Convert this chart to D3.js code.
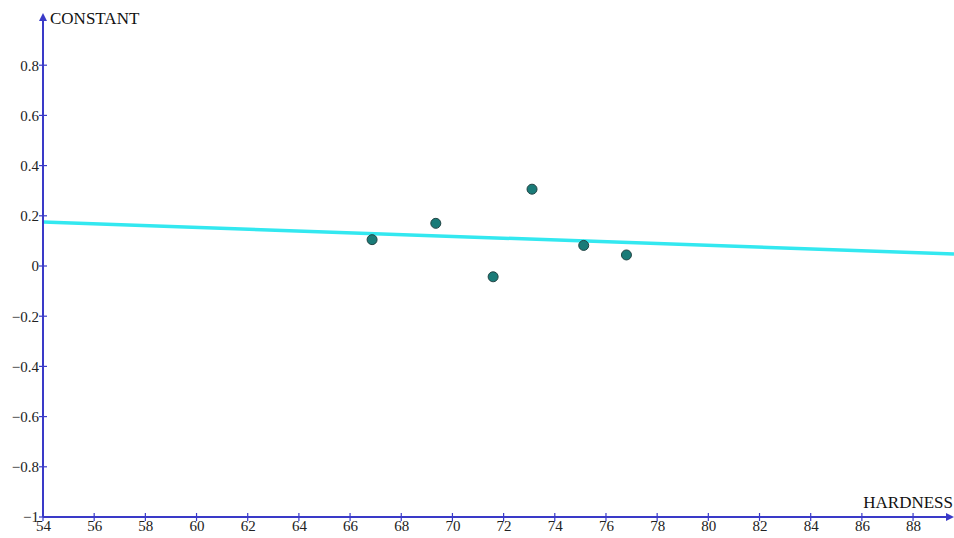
<!DOCTYPE html>
<html>
<head>
<meta charset="utf-8">
<script src="https://cdn.jsdelivr.net/npm/d3@7"></script>
<style>
  body { margin: 0; background: #fff; }
  svg { display: block; }
</style>
</head>
<body>
<div id="wrapper"></div>
<script>
// DATA
const hardness = [66.86, 69.35, 71.59, 73.11, 75.13, 76.8];
const constant = [0.105, 0.17, -0.043, 0.306, 0.082, 0.044];
const fitX = [54, 89.6];
const fitY = [0.175, 0.048];
const xTicks = [54, 56, 58, 60, 62, 64, 66, 68, 70, 72, 74, 76, 78, 80, 82, 84, 86, 88];
const yTicks = [-1, -0.8, -0.6, -0.4, -0.2, 0, 0.2, 0.4, 0.6, 0.8];

const width = 954, height = 538;
const axisColor = "#3a3ac8";
const font = "'Liberation Serif', 'DejaVu Serif', serif";

const svg = d3.select("#wrapper")
  .append("svg")
  .attr("width", width)
  .attr("height", height);

//SCALES
const x = d3.scaleLinear().domain([54, 89.6]).range([43, 954]);
const y = d3.scaleLinear().domain([-1, 0]).range([517, 266]);

//FIT LINE
svg.append("line")
  .attr("x1", x(fitX[0]))
  .attr("y1", y(fitY[0]))
  .attr("x2", x(fitX[1]))
  .attr("y2", y(fitY[1]))
  .attr("stroke", "#33e8f0")
  .attr("stroke-width", 3.5);

//AXES
const xAxis = svg.append("g")
  .attr("transform", `translate(0,${y(-1)})`)
  .call(d3.axisBottom(x).tickValues(xTicks).tickSize(0).tickPadding(3).tickFormat(d3.format("d")));

const yAxis = svg.append("g")
  .attr("transform", `translate(${x(54)},0)`)
  .call(d3.axisLeft(y).tickValues(yTicks).tickSize(0).tickPadding(4).tickFormat(d => d === 0 ? "0" : d3.format("")(d)));

[xAxis, yAxis].forEach(a => {
  a.select(".domain").remove();
  a.selectAll("text")
    .attr("font-family", font)
    .attr("font-size", 15)
    .attr("fill", "#222");
});
xAxis.selectAll("text").attr("dy", "0.72em");

// tick marks crossing the axes
svg.append("g")
  .selectAll("line")
  .data(xTicks)
  .join("line")
  .attr("x1", d => x(d)).attr("x2", d => x(d))
  .attr("y1", y(-1) - 4).attr("y2", y(-1) + 4)
  .attr("stroke", axisColor)
  .attr("stroke-width", 1.2);

svg.append("g")
  .selectAll("line")
  .data(yTicks)
  .join("line")
  .attr("x1", x(54) - 4).attr("x2", x(54) + 4)
  .attr("y1", d => y(d)).attr("y2", d => y(d))
  .attr("stroke", axisColor)
  .attr("stroke-width", 1.2);

// axis lines with arrows
svg.append("line")
  .attr("x1", x(54)).attr("y1", y(-1))
  .attr("x2", 950).attr("y2", y(-1))
  .attr("stroke", axisColor).attr("stroke-width", 2);
svg.append("path")
  .attr("d", `M954,${y(-1)} L946,${y(-1) - 4} L946,${y(-1) + 4} Z`)
  .attr("fill", axisColor);

svg.append("line")
  .attr("x1", x(54)).attr("y1", y(-1))
  .attr("x2", x(54)).attr("y2", 18)
  .attr("stroke", axisColor).attr("stroke-width", 2);
svg.append("path")
  .attr("d", `M${x(54)},13 L${x(54) - 4},21 L${x(54) + 4},21 Z`)
  .attr("fill", axisColor);

// axis titles
svg.append("text")
  .attr("x", 50).attr("y", 24)
  .attr("font-family", font).attr("font-size", 17)
  .attr("fill", "#111")
  .text("CONSTANT");

svg.append("text")
  .attr("x", 953).attr("y", 508)
  .attr("text-anchor", "end")
  .attr("font-family", font).attr("font-size", 17)
  .attr("fill", "#111")
  .text("HARDNESS");

//POINTS
svg.append("g")
  .selectAll("circle")
  .data(hardness.map((h, i) => ({ h: h, c: constant[i] })))
  .join("circle")
  .attr("cx", d => x(d.h))
  .attr("cy", d => y(d.c))
  .attr("r", 5)
  .attr("fill", "#1a7b78")
  .attr("stroke", "#224444")
  .attr("stroke-width", 1);
</script>
</body>
</html>
